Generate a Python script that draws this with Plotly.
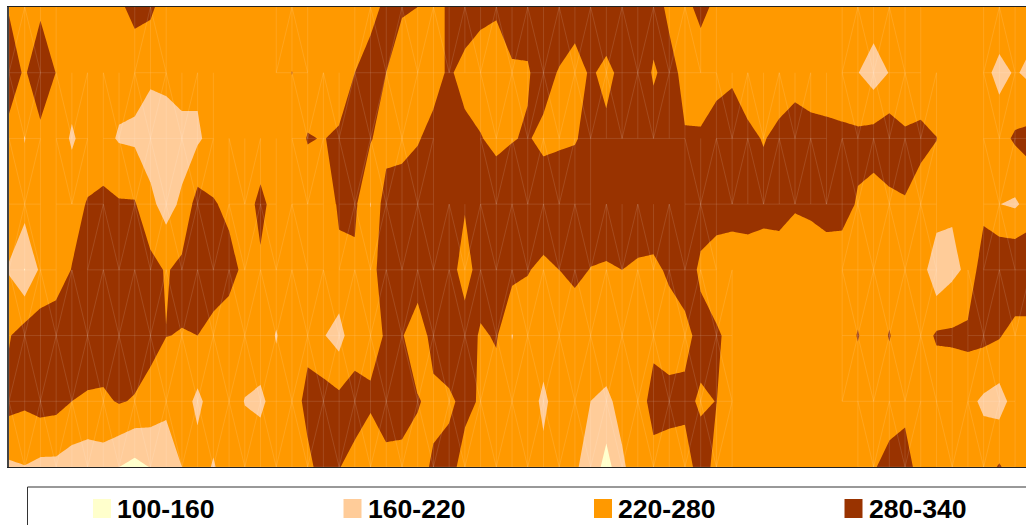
import plotly.graph_objects as go

row0 = [277,259,272,262,248,245,245,268,300,292,250,245,245,245,245,245,245,245,245,245,245,245,245,265,290,285,280,255,290,325,296,285,310,303,305,330,323,310,337,320,320,300,270,265,295,268,246,246,246,246,246,246,246,246,250,257,250,248,248,248,248,248,248,270,255,250]
row1 = [300,275,310,279,248,245,250,239,240,230,242,262,234,245,245,245,245,245,281,250,248,240,280,300,280,255,250,255,290,255,250,260,272,275,305,275,245,290,260,300,310,275,295,268,248,250,265,250,248,250,250,250,250,248,222,190,222,222,245,248,248,248,240,200,226,204]
row2 = [268,218,268,255,212,245,236,215,210,190,180,190,210,244,250,250,250,250,252,283,278,290,310,285,250,255,275,300,310,300,283,265,277,285,265,270,275,300,297,320,320,300,315,283,287,320,330,292,277,293,317,300,295,291,293,305,316,293,294,281,255,250,250,260,288,300]
row3 = [255,245,250,250,258,284,297,286,285,235,195,232,305,284,270,258,293,260,250,250,250,287,292,218,315,320,320,325,320,288,320,320,320,325,320,325,325,320,325,320,325,325,325,325,305,300,310,310,300,300,285,290,300,300,275,257,267,278,257,255,228,250,260,221,212,242]
row4 = [215,158,231,250,282,310,315,320,320,300,275,295,310,315,295,270,272,250,250,250,255,269,268,258,315,320,320,320,320,240,322,320,300,283,268,280,295,278,273,280,270,266,290,310,270,258,238,245,246,251,249,250,253,250,250,250,250,250,250,175,205,232,320,340,340,340]
row5 = [275,310,315,315,320,320,320,320,320,300,281,278,280,260,257,250,250,217,250,266,224,195,265,258,286,285,240,305,320,325,270,287,218,250,255,250,241,250,270,250,250,267,250,262,300,285,270,250,250,250,250,250,250,250,283,250,283,250,250,288,290,295,295,285,255,255]
row6 = [300,290,305,300,280,272,269,285,275,258,232,249,205,250,250,218,210,241,255,295,310,297,293,290,310,315,285,262,270,295,274,250,245,255,205,255,250,220,205,243,255,298,300,295,272,281,255,250,250,250,250,250,250,250,250,250,250,260,250,235,235,235,210,195,245,250]
row7 = [210,218,205,205,190,182,191,160,141,162,190,220,246,215,250,250,250,250,255,268,300,281,271,234,262,255,255,290,300,258,250,250,250,250,238,250,225,204,135,208,258,263,252,253,306,264,250,250,250,250,250,250,250,250,250,275,300,310,250,250,250,250,255,285,250,250]

columns = list(range(66))
rows = list(range(8))
band_labels = ["100-160", "160-220", "220-280", "280-340"]
band_colors = ["#FFFFCC", "#FFCC99", "#FF9900", "#993300"]

# column spans in which the surface mesh shows, one list for each band between two rows
mesh_spans = [
    [(0, 3), (8, 10), (17, 19), (22, 45), (53, 58), (62, 65)],
    [(0, 2), (3, 5), (6, 13), (18, 27), (30, 43), (45, 52), (53, 59), (62, 65)],
    [(0, 2), (3, 6), (7, 13), (14, 17), (18, 20), (21, 27), (30, 37), (43, 59), (62, 65)],
    [(0, 3), (5, 20), (21, 45), (53, 59), (62, 65)],
    [(0, 46), (53, 60), (61, 65)],
    [(0, 46), (53, 60), (61, 64)],
    [(0, 46), (54, 58), (59, 64)],
]
apex_top = [True, False, False, True, False, True, False]

z = [row0, row1, row2, row3, row4, row5, row6, row7]

W, H = 1026, 525
L, T, B = 9, 7, 467
cs = []
for i, c in enumerate(band_colors):
    cs += [[i / 4, c], [(i + 1) / 4, c]]

fig = go.Figure(go.Contour(
    x=columns, y=rows, z=z,
    zmin=100, zmax=340, autocontour=False,
    contours=dict(start=100, end=340, size=60, coloring="fill", showlines=False),
    line=dict(width=0, smoothing=0),
    colorscale=cs, showscale=False, hoverinfo="skip",
))

mx, my = [], []
for r, spans in enumerate(mesh_spans):
    ya, yb = (rows[r + 1], rows[r]) if apex_top[r] else (rows[r], rows[r + 1])
    for a, b in spans:
        for k in range(a, b + 1):
            mx += [columns[k], columns[k], None]
            my += [rows[r], rows[r + 1], None]
        for k in range(a, b - 1, 2):
            mx += [columns[k], columns[k + 1], columns[k + 2], None]
            my += [ya, yb, ya, None]
        mx += [columns[a], columns[b], None]
        my += [rows[r + 1], rows[r + 1], None]
fig.add_trace(go.Scatter(x=mx, y=my, mode="lines", hoverinfo="skip", showlegend=False,
                         line=dict(color="rgba(255,255,255,0.15)", width=0.8)))

def px(p): return (p - L) / (W - L)
def py(p): return (B - p) / (B - T)

shapes = [dict(type="rect", xref="paper", yref="paper",
               x0=px(27.5), x1=px(1060), y0=py(487), y1=py(560),
               line=dict(color="#333333", width=1), fillcolor="white", layer="below")]
ann = []
for i, (lab, col) in enumerate(zip(band_labels, band_colors)):
    x0 = 93 + 250.5 * i
    shapes.append(dict(type="rect", xref="paper", yref="paper",
                       x0=px(x0), x1=px(x0 + 18), y0=py(499), y1=py(518),
                       line=dict(width=0), fillcolor=col))
    ann.append(dict(xref="paper", yref="paper", x=px(x0 + 22), y=py(508.5),
                    xanchor="left", yanchor="middle", showarrow=False, text="<b>%s</b>" % lab,
                    font=dict(family="Liberation Sans, Arial", size=26.6, color="black")))

fig.update_layout(
    width=W, height=H, margin=dict(l=L, r=0, t=T, b=H - B, pad=0),
    paper_bgcolor="white", plot_bgcolor="white", showlegend=False,
    shapes=shapes, annotations=ann,
    xaxis=dict(range=[0, (W - L) / 15.72], showgrid=False, zeroline=False, showticklabels=False,
               ticks="", showline=True, linecolor="#222222", linewidth=1, mirror=True),
    yaxis=dict(range=[7, 0], showgrid=False, zeroline=False, showticklabels=False,
               ticks="", showline=True, linecolor="#444444", linewidth=1.5),
)
fig.write_html("out.html", config=dict(displayModeBar=False),
               post_script="document.documentElement.style.overflow='hidden';document.body.style.margin='0';")
